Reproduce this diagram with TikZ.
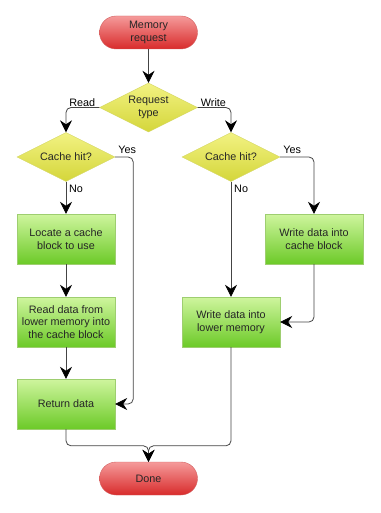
\documentclass[tikz,border=0pt]{standalone}
\usepackage{fontspec}
\setmainfont{Liberation Sans}
\usetikzlibrary{arrows.meta,positioning,shapes.geometric}
\usepackage{xcolor}

\definecolor{termtop}{HTML}{F59A9A}
\definecolor{termbot}{HTML}{D82B2B}
\definecolor{termline}{HTML}{D26060}
\definecolor{decitop}{HTML}{F2F282}
\definecolor{decibot}{HTML}{D4D63A}
\definecolor{deciline}{HTML}{D6D866}
\definecolor{proctop}{HTML}{CFF59E}
\definecolor{procbot}{HTML}{6CCA28}
\definecolor{procline}{HTML}{9ECE70}
\definecolor{wire}{HTML}{444444}

\begin{document}
\begin{tikzpicture}[
            on grid,
            font=\fontsize{10.8}{12.5}\selectfont,
            terminal/.style={rectangle, rounded corners=16.5pt, draw=termline, top color=termtop, bottom color=termbot, align=center, minimum width=98pt, minimum height=33pt, inner sep=0pt, text=black!85},
            decision/.style={diamond, aspect=2, draw=deciline, top color=decitop, bottom color=decibot, align=center, minimum width=98pt, minimum height=49pt, inner sep=0pt, text=black!85},
            process/.style={rectangle, draw=procline, top color=proctop, bottom color=procbot, align=center, minimum width=98pt, minimum height=50pt, inner sep=0pt, text=black!85},
            arrow/.style={-{Stealth[length=12pt, width=12pt, inset=4pt, black]}, draw=wire, line width=0.8pt, rounded corners=5pt},
            branch/.style={font=\fontsize{10.8}{12.5}\selectfont, inner sep=1pt}
        ]
            \useasboundingbox (0pt,0pt) rectangle (380pt,-513pt);

            % --- INICIO ---
            \node[terminal] (memreq) at (148.5pt,-32.5pt) {Memory\\request};
            \node[decision, below=75pt of memreq] (reqtype) {Request\\type};

            % --- LEITURA ---
            \node[decision, below left=49.5pt and 82.5pt of reqtype] (hitread) {Cache hit?};
            \node[process, below=82pt of hitread] (locate) {Locate a cache\\block to use};
            \node[process, below=83pt of locate] (readmem) {Read data from\\lower memory into\\the cache block};
            \node[process, below=82pt of readmem] (retdata) {Return data};

            % --- ESCRITA ---
            \node[decision, below right=49.5pt and 82.5pt of reqtype] (hitwrite) {Cache hit?};
            \node[process, below right=82pt and 83pt of hitwrite] (writecache) {Write data into\\cache block};
            \node[process, below=165pt of hitwrite] (writemem) {Write data into\\lower memory};

            % --- FIM ---
            \node[terminal, below=446pt of memreq] (done) {Done};
            \coordinate (join) at ([yshift=16pt]done.north);

            % Ligações
            \draw[arrow] (memreq.south) -- (reqtype.north);
            \draw[arrow] (reqtype.west) -| (hitread.north);
            \draw[arrow] (reqtype.east) -| (hitwrite.north);

            \draw[arrow] (hitread.south) -- (locate.north);
            \draw[arrow] (locate.south) -- (readmem.north);
            \draw[arrow] (readmem.south) -- (retdata.north);
            \draw[arrow] (hitread.east) -- ++(18pt,0pt) |- (retdata.east);

            \draw[arrow] (hitwrite.east) -| (writecache.north);
            \draw[arrow] (hitwrite.south) -- (writemem.north);
            \draw[arrow] (writecache.south) |- (writemem.east);

            \draw[arrow] (retdata.south) |- (join) -- (done.north);
            \draw[arrow] (writemem.south) |- (join) -- (done.north);

            % Rótulos
            \node[branch, anchor=south east] (lblread) at ([xshift=-3pt]reqtype.west) {Read};
            \node[branch, anchor=south west] (lblwrite) at ([xshift=2pt]reqtype.east) {Write};
            \node[branch, anchor=south west] (lblyesr) at ([xshift=2pt,yshift=2pt]hitread.east) {Yes};
            \node[branch, anchor=north west] (lblnor) at ([xshift=2pt,yshift=-2pt]hitread.south) {No};
            \node[branch, anchor=south west] (lblyesw) at ([xshift=2pt,yshift=2pt]hitwrite.east) {Yes};
            \node[branch, anchor=north west] (lblnow) at ([xshift=2pt,yshift=-2pt]hitwrite.south) {No};

        \end{tikzpicture}
\end{document}
